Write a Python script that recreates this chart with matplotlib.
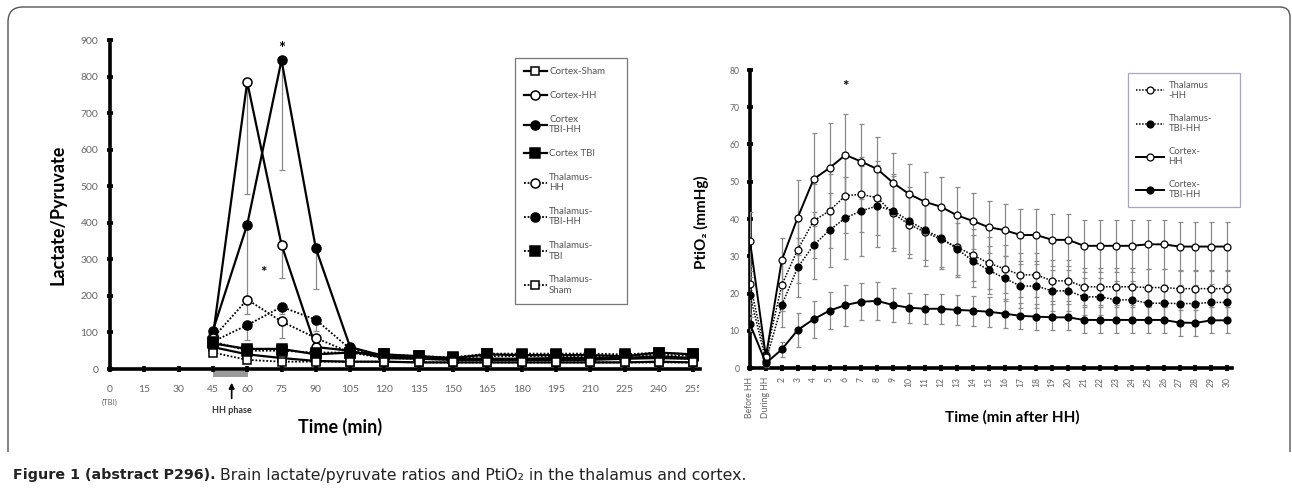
import matplotlib
matplotlib.use("Agg")
import matplotlib.pyplot as plt
from matplotlib.path import Path
from matplotlib.patches import PathPatch, Rectangle
from matplotlib.transforms import Bbox, TransformedBbox

plt.rcParams['font.family'] = ['Lato', 'DejaVu Sans']

W, H = 1292, 494

# ---- left panel: lactate / pyruvate ratio ----
lp_time = [45, 60, 75, 90, 105, 120, 135, 150, 165, 180, 195, 210, 225, 240, 255]
lp_ticks = [0, 15, 30, 45, 60, 75, 90, 105, 120, 135, 150, 165, 180, 195, 210, 225, 240, 255]
lp_yticks = [0, 100, 200, 300, 400, 500, 600, 700, 800, 900]

cortex_sham = [60, 40, 30, 22, 20, 20, 18, 18, 18, 18, 18, 18, 18, 20, 18]
cortex_hh = [90, 785, 340, 60, 50, 30, 28, 25, 25, 25, 25, 25, 28, 30, 28]
cortex_tbi_hh = [105, 395, 845, 330, 60, 35, 30, 28, 28, 28, 30, 30, 30, 35, 30]
cortex_tbi = [70, 55, 55, 40, 45, 40, 35, 30, 40, 38, 38, 38, 35, 45, 40]
thal_hh = [85, 190, 130, 85, 45, 30, 28, 25, 28, 28, 28, 28, 30, 30, 28]
thal_tbi_hh = [75, 120, 170, 135, 55, 35, 32, 30, 35, 35, 35, 35, 35, 40, 35]
thal_tbi = [75, 50, 50, 45, 45, 40, 35, 32, 42, 42, 42, 42, 40, 45, 40]
thal_sham = [45, 25, 20, 20, 20, 20, 18, 18, 18, 18, 18, 18, 18, 18, 18]

# lower error bars only
cortex_hh_low = [15, 305, 90, 15, 10, 5, 5, 5, 5, 5, 5, 5, 5, 5, 5]
cortex_tbi_hh_low = [15, 200, 300, 110, 10, 5, 5, 5, 5, 5, 5, 5, 5, 5, 5]
thal_hh_low = [10, 40, 45, 20, 10, 5, 5, 5, 5, 5, 5, 5, 5, 5, 5]
thal_tbi_hh_low = [10, 40, 20, 30, 10, 5, 5, 5, 5, 5, 5, 5, 5, 5, 5]

# ---- right panel: PtiO2 ----
po_labels = ["Before HH", "During HH"] + [str(m) for m in range(2, 31)]
po_yticks = [0, 10, 20, 30, 40, 50, 60, 70, 80]

po_cortex_hh = [34, 3, 29, 40.4, 50.7, 53.7, 57.2, 55.4, 53.4, 49.7, 46.7, 44.6, 43.3, 41,
                39.5, 37.8, 37, 35.7, 35.7, 34.4, 34.4, 32.8, 32.8, 32.8, 32.8, 33.2, 33.2,
                32.6, 32.6, 32.6, 32.6]
po_thal_hh = [22.5, 3.5, 22.3, 31.8, 39.5, 42.2, 46.3, 46.6, 45.7, 41.5, 38.5, 36.5, 34.5,
              32.5, 30.3, 28.2, 26.6, 25, 25, 23.4, 23.4, 21.8, 21.8, 21.8, 21.8, 21.6, 21.6,
              21.3, 21.3, 21.3, 21.3]
po_thal_tbi_hh = [19.5, 2, 16.9, 27, 33, 37, 40.3, 42.2, 43.5, 42.2, 39.5, 37, 35, 32, 28.8,
                  26.3, 24.1, 22, 22, 20.7, 20.7, 19.1, 19.1, 18.3, 18.3, 17.4, 17.4, 17.3,
                  17.3, 17.6, 17.6]
po_cortex_tbi_hh = [11.8, 1.3, 5, 10.2, 13.1, 15.4, 16.9, 17.8, 18, 16.9, 16.2, 15.9, 15.9,
                    15.6, 15.4, 15.1, 14.6, 14, 13.8, 13.6, 13.6, 12.9, 12.9, 12.9, 12.9, 12.9,
                    12.9, 12.2, 12.1, 12.8, 12.8]

po_cortex_hh_err = [8, 2, 6, 10, 12.5, 12, 11, 10, 8.5, 8, 8, 8, 8, 7.7, 7.5, 7, 7, 7, 7, 7,
                    7, 7, 7, 7, 7, 6.5, 6.5, 6.5, 6.5, 6.5, 6.5]
po_thal_hh_err = [5, 1.5, 7, 9, 10, 10, 10, 10, 10, 10, 9, 9, 8, 8, 7, 7, 6.5, 6, 6, 5.5,
                  5.5, 5, 5, 5, 5, 5, 5, 5, 5, 5, 5]
po_thal_tbi_hh_err = [5, 1.5, 6, 8, 9, 10, 11, 12, 11, 10, 9, 8, 8, 7, 7, 6.5, 6, 6, 6, 5.5,
                      5.5, 5, 5, 5, 5, 5, 5, 5, 5, 5, 5]
po_cortex_tbi_hh_err = [2, 1, 2, 4.5, 5, 5, 5.5, 5, 5, 4.5, 4, 4, 4, 4, 4, 4, 3.8, 3.5, 3.5,
                        3.5, 3.5, 3.5, 3.5, 3.5, 3.5, 3.5, 3.5, 3.5, 3.5, 3.5, 3.5]

GREY = '#8a8a8a'
TXT = '#666666'


def fx(px):
    return px / W


def fy(py):
    return 1 - py / H


def style_axes(ax, size):
    for side in ('top', 'right'):
        ax.spines[side].set_visible(False)
    for side in ('left', 'bottom'):
        ax.spines[side].set_linewidth(2.6)
        ax.spines[side].set_zorder(1)
    ax.tick_params(direction='inout', length=5, width=2.6, color='black',
                   labelcolor=TXT, labelsize=size)


def place_label(ax, axis, px, py):
    # put an axis label centre at a pixel position of the figure
    inv = ax.transAxes.inverted()
    x, y = inv.transform(fig.transFigure.transform((fx(px), fy(py))))
    lab = ax.xaxis if axis == 'x' else ax.yaxis
    lab.set_label_coords(x, y)
    lab.label.set_verticalalignment('center')
    lab.label.set_horizontalalignment('center')


fig = plt.figure(figsize=(W / 100, H / 100), dpi=100)

# ---------- left panel ----------
ax1 = fig.add_axes([fx(110), fy(369), fx(700) - fx(110), fy(40) - fy(369)])
style_axes(ax1, 7.5)
ax1.set_xlim(0, 258)
ax1.set_ylim(0, 900)
ax1.set_xticks(lp_ticks)
ax1.set_yticks(lp_yticks)
ax1.tick_params(axis='x', pad=9)
ax1.tick_params(axis='y', pad=6)

zeros = [0] * len(lp_time)
for vals, low in [(cortex_hh, cortex_hh_low), (cortex_tbi_hh, cortex_tbi_hh_low),
                  (thal_hh, thal_hh_low), (thal_tbi_hh, thal_tbi_hh_low)]:
    ax1.errorbar(lp_time, vals, yerr=[low, zeros], fmt='none', ecolor=GREY,
                 elinewidth=0.9, capsize=2, capthick=0.9, zorder=2)

solid = dict(color='black', lw=1.6, mec='black', mew=1.1, zorder=3)
dotted = dict(color='black', lw=1.3, ls=(0, (1, 1)), mec='black', mew=1.1, zorder=3)
ax1.plot(lp_time, cortex_sham, marker='s', ms=6, mfc='white', label='Cortex-Sham', **solid)
ax1.plot(lp_time, cortex_hh, marker='o', ms=6.5, mfc='white', label='Cortex-HH', **solid)
ax1.plot(lp_time, cortex_tbi_hh, marker='o', ms=6.5, mfc='black', label='Cortex\nTBI-HH', **solid)
ax1.plot(lp_time, cortex_tbi, marker='s', ms=6.5, mfc='black', label='Cortex TBI', **solid)
ax1.plot(lp_time, thal_hh, marker='o', ms=6.5, mfc='white', label='Thalamus-\nHH', **dotted)
ax1.plot(lp_time, thal_tbi_hh, marker='o', ms=6.5, mfc='black', label='Thalamus-\nTBI-HH', **dotted)
ax1.plot(lp_time, thal_tbi, marker='s', ms=6.5, mfc='black', label='Thalamus-\nTBI', **dotted)
ax1.plot(lp_time, thal_sham, marker='s', ms=6, mfc='white', label='Thalamus-\nSham', **dotted)

ax1.text(75, 875, '*', ha='center', va='center', fontsize=12, fontweight='bold')
ax1.text(67, 262, '*', ha='center', va='center', fontsize=11, fontweight='bold')

# HH phase marker under the axis
ax1.add_patch(Rectangle((45, -21), 15.3, 16, facecolor='#9a9a9a', edgecolor='none',
                        clip_on=False, zorder=0))
ax1.annotate('', xy=(53.2, -30), xytext=(53.2, -88),
             arrowprops=dict(arrowstyle='-|>', color='black', lw=1.2, mutation_scale=8),
             annotation_clip=False)
ax1.text(53.5, -100, 'HH phase', ha='center', va='top', fontsize=6.5,
         fontweight='bold', color='#333333', clip_on=False)
ax1.text(0, -82, '(TBI)', ha='center', va='top', fontsize=5.5, color=TXT, clip_on=False)

ax1.set_ylabel('Lactate/Pyruvate', fontsize=13, fontweight='bold')
ax1.set_xlabel('Time (min)', fontsize=13, fontweight='bold')
place_label(ax1, 'y', 58, 215)
place_label(ax1, 'x', 340, 427)

clip = TransformedBbox(Bbox([[0, 0], [fx(699), 1]]), fig.transFigure)
for lbl in ax1.get_xticklabels():
    lbl.set_clip_on(True)
    lbl.set_clip_box(clip)

leg1 = ax1.legend(loc='upper left',
                  bbox_to_anchor=(fx(515), fy(305), fx(627) - fx(515), fy(58) - fy(305)),
                  bbox_transform=fig.transFigure, mode='expand', fontsize=7,
                  labelcolor='#555555', frameon=True, fancybox=False, edgecolor='#555555',
                  handlelength=2.3, handletextpad=0.25, labelspacing=1.52, borderpad=0.95,
                  borderaxespad=0)
leg1.get_frame().set_linewidth(0.9)

# ---------- right panel ----------
ax2 = fig.add_axes([fx(750), fy(368), fx(1232) - fx(750), fy(70) - fy(368)])
style_axes(ax2, 6.2)
idx = list(range(len(po_labels)))
ax2.set_xlim(0, 30.3)
ax2.set_ylim(0, 80)
ax2.set_xticks(idx)
ax2.set_xticklabels(po_labels, rotation=90)
ax2.set_yticks(po_yticks)
ax2.tick_params(axis='x', pad=4)
ax2.tick_params(axis='y', pad=5)

for vals, err in [(po_cortex_hh, po_cortex_hh_err), (po_thal_hh, po_thal_hh_err),
                  (po_thal_tbi_hh, po_thal_tbi_hh_err), (po_cortex_tbi_hh, po_cortex_tbi_hh_err)]:
    ax2.errorbar(idx, vals, yerr=err, fmt='none', ecolor=GREY, elinewidth=0.9,
                 capsize=1.8, capthick=0.9, zorder=2)

solid2 = dict(color='black', lw=1.4, mec='black', mew=0.9, ms=5, zorder=3)
dotted2 = dict(color='black', lw=1.1, ls=(0, (1, 1)), mec='black', mew=0.9, ms=5, zorder=3)
ax2.plot(idx, po_thal_hh, marker='o', mfc='white', label='Thalamus\n-HH', **dotted2)
ax2.plot(idx, po_thal_tbi_hh, marker='o', mfc='black', label='Thalamus-\nTBI-HH', **dotted2)
ax2.plot(idx, po_cortex_hh, marker='o', mfc='white', label='Cortex-\nHH', **solid2)
ax2.plot(idx, po_cortex_tbi_hh, marker='o', mfc='black', label='Cortex-\nTBI-HH', **solid2)

ax2.text(6, 75.5, '*', ha='center', va='center', fontsize=11, fontweight='bold')

ax2.set_ylabel('PtiO₂ (mmHg)', fontsize=11, fontweight='bold')
ax2.set_xlabel('Time (min after HH)', fontsize=11, fontweight='bold')
place_label(ax2, 'y', 701, 222)
place_label(ax2, 'x', 1012, 417)

leg2 = ax2.legend(loc='upper left',
                  bbox_to_anchor=(fx(1128), fy(206), fx(1240) - fx(1128), fy(73) - fy(206)),
                  bbox_transform=fig.transFigure, mode='expand', fontsize=6.8,
                  labelcolor='#555555', frameon=True, fancybox=False, edgecolor='#9090b0',
                  handlelength=3.0, handletextpad=0.5, labelspacing=1.45, borderpad=0.8,
                  borderaxespad=0)
leg2.get_frame().set_linewidth(0.9)

# ---------- outer frame and caption ----------
verts = [(fx(8), fy(452)), (fx(8), fy(22)), (fx(8), fy(7)), (fx(23), fy(7)),
         (fx(1280), fy(7)), (fx(1290), fy(7)), (fx(1290), fy(17)), (fx(1290), fy(452))]
codes = [Path.MOVETO, Path.LINETO, Path.CURVE3, Path.CURVE3,
         Path.LINETO, Path.CURVE3, Path.CURVE3, Path.LINETO]
fig.add_artist(PathPatch(Path(verts, codes), transform=fig.transFigure, fill=False,
                         edgecolor='#555555', lw=1))

cap_font = ['DejaVu Sans']
t1 = fig.text(fx(13), fy(475), 'Figure 1 (abstract P296).', fontsize=10.3, family=cap_font,
              fontweight='bold', color='#222222', va='center')
fig.canvas.draw()
bb = t1.get_window_extent()
fig.text(bb.x1 / W + fx(4), fy(475),
         'Brain lactate/pyruvate ratios and PtiO₂ in the thalamus and cortex.',
         fontsize=11.3, family=cap_font, color='#222222', va='center')

fig.savefig('out.png', dpi=100)
